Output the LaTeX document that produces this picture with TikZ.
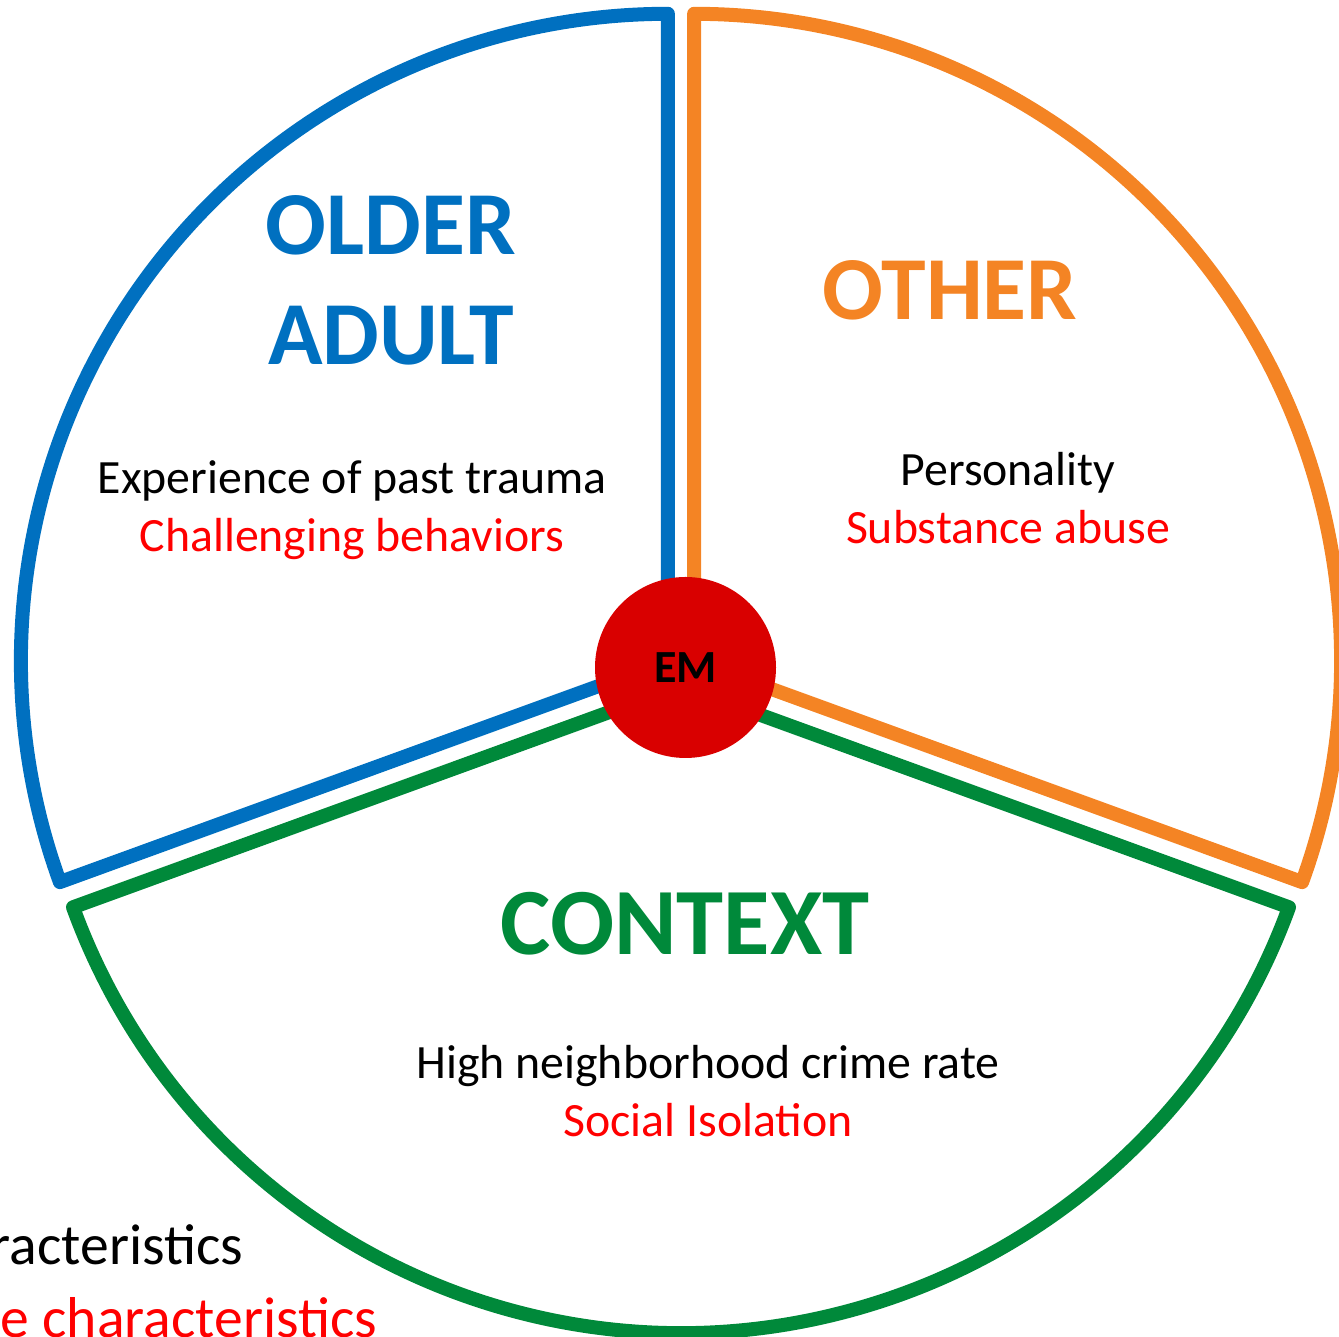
\documentclass[tikz,border=0pt]{standalone}
\usepackage{fontspec}
\setmainfont{Carlito}
\usepackage{tikz}
\usetikzlibrary{calc}
\definecolor{oablue}{RGB}{0,112,192}
\definecolor{othorange}{RGB}{244,132,36}
\definecolor{ctxgreen}{RGB}{0,137,58}
\definecolor{emred}{RGB}{217,0,0}
\definecolor{txtred}{RGB}{255,0,0}
\newcommand\sectorR{6.47}

\begin{document}
\begin{tikzpicture}[sector/.style = {line width=0.14cm, line join=round},
  title/.style = {anchor=base, font=\fontsize{25.6pt}{30pt}\selectfont\bfseries},
  item/.style = {anchor=base, font=\fontsize{13.6pt}{16pt}\selectfont},
  cut/.style = {anchor=base east, inner sep=0, font=\fontsize{16.4pt}{19pt}\selectfont}]
	\useasboundingbox (0,0) rectangle (13.39,13.37);
	% exploded pie, each piece pushed out along its middle
	\coordinate (O) at (6.81,6.67);
	\coordinate (oa) at ($(O)+(145:0.16)$);
	\coordinate (ot) at ($(O)+(35:0.16)$);
	\coordinate (cx) at ($(O)+(270:0.16)$);
	\draw[sector, oablue] (oa) -- ++(90:\sectorR) arc (90:200:\sectorR) -- cycle;
	\draw[sector, othorange] (ot) -- ++(-20:\sectorR) arc (-20:90:\sectorR) -- cycle;
	\draw[sector, ctxgreen] (cx) -- ++(200:\sectorR) arc (200:340:\sectorR) -- cycle;
	\node[circle, fill=emred, minimum size=1.81cm, inner sep=0,
	  font=\fontsize{13.1pt}{15pt}\selectfont\bfseries] (em) at (6.855,6.695){EM};
	% older adult
	\node[title, oablue] (older) at (3.91,10.82){OLDER};
	\node[title, oablue] (adult) at (3.91,9.72){ADULT};
	\node[item] (trauma) at (3.52,8.43){Experience of past trauma};
	\node[item, txtred] (behav) at (3.52,7.85){Challenging behaviors};
	% other
	\node[title, othorange] (other) at (9.50,10.17){OTHER};
	\node[item] (person) at (10.08,8.51){Personality};
	\node[item, txtred] (abuse) at (10.08,7.93){Substance abuse};
	% context
	\node[title, ctxgreen, font=\fontsize{27pt}{32pt}\selectfont\bfseries] (context) at (6.85,3.82){CONTEXT};
	\node[item] (crime) at (7.08,2.58){High neighborhood crime rate};
	\node[item, txtred] (isol) at (7.08,2.00){Social Isolation};
	% text cut off at the page edge
	\node[cut] (chars) at (2.44,0.72){racteristics};
	\node[cut, txtred] (echars) at (3.78,-0.01){e characteristics};
\end{tikzpicture}
\end{document}
